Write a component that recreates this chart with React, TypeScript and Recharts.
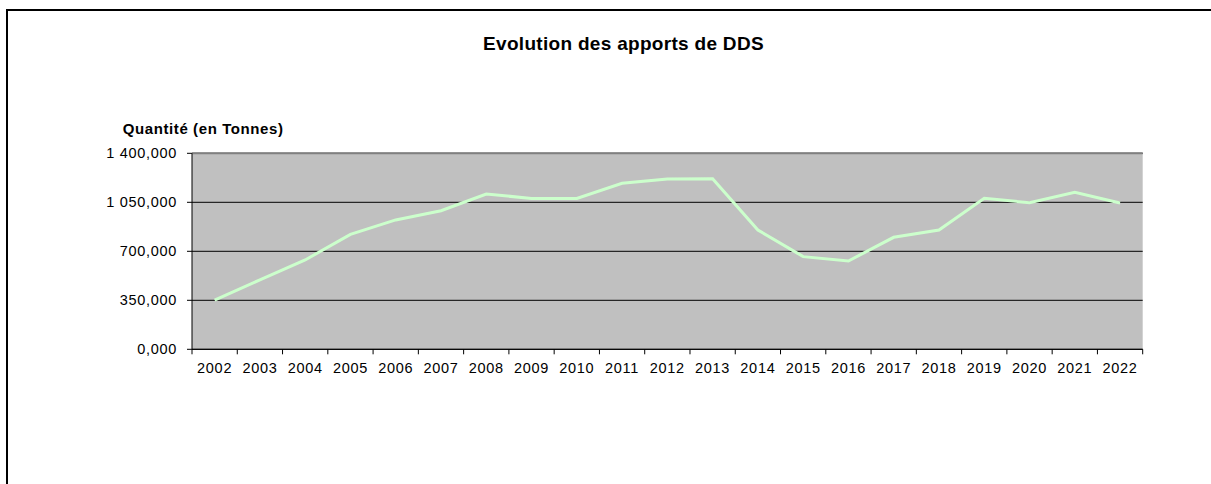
import { CartesianGrid, Line, LineChart, ReferenceLine, XAxis, YAxis } from 'recharts';

// années (catégories) et quantités en tonnes
const years = [
  '2002', '2003', '2004', '2005', '2006', '2007', '2008', '2009', '2010', '2011', '2012',
  '2013', '2014', '2015', '2016', '2017', '2018', '2019', '2020', '2021', '2022',
];
const tonnes = [
  352, 496, 638, 821, 924, 990, 1109, 1078, 1078, 1186, 1216,
  1219, 852, 662, 631, 800, 852, 1078, 1047, 1121, 1045,
];
const yTicks = [0, 350, 700, 1050, 1400];

const data = years.map((year, i) => ({ year, tonnes: tonnes[i] }));

const WIDTH = 1211;
const HEIGHT = 484;
const PLOT_LEFT = 192;
const PLOT_RIGHT = 1142.7;
const PLOT_TOP = 153.3;
const PLOT_BOTTOM = 349.3;
const Y_AXIS_W = 100;
const X_AXIS_H = 30;
const HALF_STEP = (PLOT_RIGHT - PLOT_LEFT) / years.length / 2;
const LABEL_GAP = 13.5;

const FONT = '"Liberation Sans", Arial, sans-serif';
const TICK = { fill: '#000', fontSize: 14.5, letterSpacing: 0.7 };

/** format français : "1 400,000" */
function formatFr(v: number) {
  const [int, dec] = v.toFixed(3).split('.');
  return `${int.replace(/\B(?=(\d{3})+(?!\d))/g, ' ')},${dec}`;
}

// libellé centré sur la catégorie + graduation entre catégories (à la Excel)
function YearTick(props: any) {
  const { x, y, payload, index } = props;
  const last = index === years.length - 1;
  return (
    <g>
      <line x1={x - HALF_STEP} x2={x - HALF_STEP} y1={y} y2={y + 5} stroke="#000" />
      {last && <line x1={x + HALF_STEP} x2={x + HALF_STEP} y1={y} y2={y + 5} stroke="#000" />}
      <text
        x={x}
        y={y + LABEL_GAP}
        dy="0.71em"
        textAnchor="middle"
        fill={TICK.fill}
        fontSize={TICK.fontSize}
        letterSpacing={TICK.letterSpacing}
      >
        {payload.value}
      </text>
    </g>
  );
}

export default function App() {
  return (
    <div
      style={{
        position: 'absolute',
        left: 0,
        top: 0,
        width: WIDTH,
        height: HEIGHT,
        overflow: 'hidden',
        background: '#fff',
        fontFamily: FONT,
      }}
    >
      {/* cadre du graphique (bords droit et bas hors champ) */}
      <div
        style={{
          position: 'absolute',
          left: 6,
          top: 9,
          width: WIDTH,
          height: HEIGHT,
          borderTop: '2px solid #000',
          borderLeft: '2px solid #000',
        }}
      />
      <div
        style={{
          position: 'absolute',
          left: 0,
          width: 1247,
          top: 33.9,
          textAlign: 'center',
          fontSize: 19,
          lineHeight: '19px',
          fontWeight: 'bold',
          letterSpacing: 0.3,
        }}
      >
        Evolution des apports de DDS
      </div>
      <div
        style={{
          position: 'absolute',
          left: 122.7,
          top: 120.6,
          fontSize: 15,
          lineHeight: '15px',
          fontWeight: 'bold',
          letterSpacing: 0.6,
          whiteSpace: 'nowrap',
        }}
      >
        Quantité (en Tonnes)
      </div>
      <LineChart
        width={WIDTH}
        height={HEIGHT}
        data={data}
        style={{ position: 'absolute', left: 0, top: 0, fontFamily: FONT }}
        margin={{
          top: PLOT_TOP,
          left: PLOT_LEFT - Y_AXIS_W,
          right: WIDTH - PLOT_RIGHT,
          bottom: HEIGHT - PLOT_BOTTOM - X_AXIS_H,
        }}
      >
        <CartesianGrid fill="#C0C0C0" fillOpacity={1} stroke="#000" strokeWidth={1} vertical={false} />
        <XAxis
          dataKey="year"
          type="category"
          padding={{ left: HALF_STEP, right: HALF_STEP }}
          tick={YearTick}
          tickLine={false}
          tickSize={0}
          tickMargin={0}
          axisLine={{ stroke: '#000' }}
          height={X_AXIS_H}
          interval={0}
        />
        <YAxis
          width={Y_AXIS_W}
          domain={[0, 1400]}
          ticks={yTicks}
          tickFormatter={formatFr}
          tick={TICK}
          tickSize={5}
          tickMargin={10}
          tickLine={{ stroke: '#000' }}
          axisLine={{ stroke: '#000' }}
        />
        {/* bord droit gris du fond de tracé */}
        <YAxis
          yAxisId="r"
          orientation="right"
          width={0}
          domain={[0, 1400]}
          tick={false}
          tickLine={false}
          axisLine={{ stroke: '#808080', strokeWidth: 2 }}
        />
        <ReferenceLine y={1400} stroke="#808080" strokeWidth={2} />
        <Line
          type="linear"
          dataKey="tonnes"
          stroke="#CCFFCC"
          strokeWidth={3}
          dot={false}
          activeDot={false}
          isAnimationActive={false}
        />
      </LineChart>
    </div>
  );
}
